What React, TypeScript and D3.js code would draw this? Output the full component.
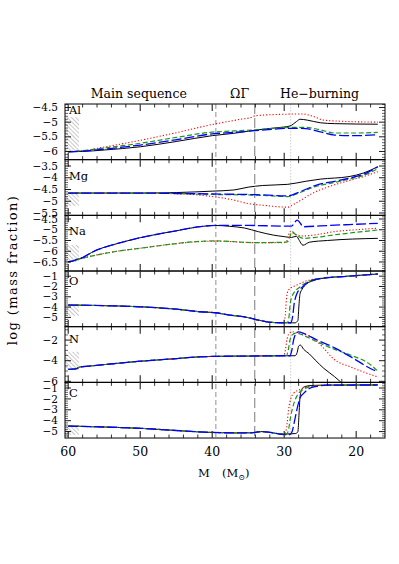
import React from "react";
import * as d3 from "d3";

type Pt = [number, number];

// mass axis runs backwards (the star loses mass as it evolves)
const MASS_TICKS = [60, 50, 40, 30, 20];
const PHASE_MASSES = [39.5, 34.1, 29.1];
const PHASE_TEXT = ["Main sequence", "ΩΓ", "He−burning"];
const PHASE_TEXT_MASS = [50.2, 36.2, 25.1];

const ELEMENTS = ["Al", "Mg", "Na", "O", "N", "C"];
const Y_DOMAINS: [number, number][] = [
  [-6.28, -4.38],
  [-5.6, -3.23],
  [-6.92, -4.33],
  [-5.9, -0.5],
  [-6.1, -0.7],
  [-5.59, -0.48],
];
const Y_MAJOR = [0.5, 0.5, 0.5, 1, 2, 1];
const Y_MINOR = [0.1, 0.1, 0.1, 0.2, 0.5, 0.2];

// initial abundance range (hatched box at left)
const HATCH_RANGES: [number, number][] = [
  [-6.01, -4.83],
  [-5.2, -4.65],
  [-6.5, -5.71],
  [-4.87, -3.8],
  [-4.9, -3.13],
  [-5.31, -4.39],
];
const HATCH_MASS = 58.5;

// ---- Al
const AL_SOLID: Pt[] = [[60, -6.01], [58, -6.0], [55, -5.95], [50, -5.84], [45, -5.66], [40, -5.46], [37, -5.38], [34, -5.27], [31, -5.19], [29.2, -5.13], [28.3, -4.98], [27.8, -4.9], [26.8, -4.93], [25, -5.02], [23, -5.05], [17, -5.07]];
const AL_DOTTED: Pt[] = [[60, -6.01], [58, -5.98], [55, -5.85], [50, -5.62], [45, -5.36], [40, -5.08], [36, -4.9], [34.6, -4.84], [34, -4.78], [30, -4.73], [27.5, -4.72], [26, -4.8], [24.5, -4.93], [22, -4.97], [17, -5.0]];
const AL_SHORT: Pt[] = [[60, -6.01], [58, -5.97], [55, -5.88], [50, -5.72], [45, -5.52], [40, -5.34], [37, -5.3], [34, -5.26], [29, -5.18], [27, -5.18], [25, -5.26], [23, -5.37], [20, -5.37], [17, -5.35]];
const AL_LONG: Pt[] = [[60, -6.01], [58, -5.99], [55, -5.92], [50, -5.78], [45, -5.6], [40, -5.4], [37, -5.35], [34, -5.29], [29, -5.21], [27, -5.22], [25, -5.33], [23, -5.44], [20, -5.46], [17, -5.43]];

// ---- Mg
const MG_SOLID: Pt[] = [[60, -4.65], [50, -4.65], [45, -4.63], [40, -4.57], [37, -4.52], [35, -4.4], [33, -4.33], [29.5, -4.28], [27, -4.15], [25, -4.06], [21, -3.95], [19, -3.8], [17, -3.53]];
const MG_DOTTED: Pt[] = [[60, -4.65], [50, -4.66], [45, -4.68], [40, -4.8], [37, -4.95], [35, -5.1], [33, -5.17], [29.5, -5.25], [28.5, -5.1], [26, -4.65], [24, -4.4], [21, -4.12], [19, -3.95], [17, -3.74]];
const MG_SHORT: Pt[] = [[60, -4.65], [50, -4.65], [45, -4.67], [40, -4.71], [34, -4.74], [29.5, -4.8], [28, -4.65], [25.5, -4.36], [23, -4.2], [21, -4.06], [19, -3.9], [17, -3.62]];
const MG_LONG: Pt[] = [[60, -4.65], [50, -4.65], [45, -4.67], [40, -4.69], [34, -4.72], [29.5, -4.77], [28, -4.62], [25.5, -4.31], [23, -4.15], [21, -4.02], [19, -3.85], [17, -3.53]];

// ---- Na
const NA_SOLID: Pt[] = [[60, -6.49], [59.3, -6.45], [58.8, -6.38], [58, -6.3], [57.5, -6.2], [56, -5.94], [54, -5.72], [52.3, -5.56], [50, -5.37], [47, -5.17], [45, -5.05], [42, -4.87], [39.5, -4.8], [37.6, -4.84], [35.5, -4.92], [33.6, -5.09], [31.5, -5.25], [30, -5.32], [29, -5.36], [28.3, -5.3], [27.9, -5.5], [27.4, -5.72], [26.5, -5.58], [24, -5.5], [17, -5.4]];
const NA_DOTTED: Pt[] = [[60, -6.49], [59, -6.42], [58.5, -6.37], [56, -6.17], [53, -5.99], [50, -5.86], [45.4, -5.66], [41.7, -5.55], [39.5, -5.53], [34, -5.6], [30, -5.6], [29.6, -5.5], [29.2, -5.09], [28.5, -5.2], [27.3, -5.29], [25, -5.2], [23.1, -5.09], [20, -5.0], [17, -4.93]];
const NA_SHORT: Pt[] = [[60, -6.49], [59, -6.42], [58.5, -6.37], [56, -6.17], [53, -5.99], [50, -5.86], [45.4, -5.66], [41.7, -5.54], [39.5, -5.52], [34, -5.6], [30, -5.58], [29.5, -5.55], [28.9, -5.09], [28.5, -5.2], [27.3, -5.4], [25.5, -5.35], [23.1, -5.24], [20, -5.12], [17, -5.01]];
const NA_LONG: Pt[] = [[60, -6.49], [59.3, -6.45], [58.8, -6.38], [58, -6.3], [57.5, -6.2], [56, -5.94], [54, -5.72], [52.3, -5.56], [50, -5.37], [47, -5.17], [45, -5.05], [42, -4.87], [39.5, -4.8], [35, -4.8], [30, -4.83], [29, -4.83], [28.2, -4.55], [27.3, -4.86], [25, -4.82], [21, -4.76], [17, -4.7]];

// ---- O
const O_SOLID: Pt[] = [[60, -3.8], [55, -3.86], [50, -3.97], [45, -4.2], [41.7, -4.45], [39.5, -4.55], [37.6, -4.77], [35.5, -4.95], [33.6, -5.26], [32.2, -5.45], [30.5, -5.52], [28.5, -5.53], [28.1, -5.3], [27.95, -3.8], [27.8, -2.7], [27.54, -2.3], [26.84, -1.72], [26, -1.45], [25, -1.25], [21, -1.0], [17, -0.79]];
const O_DOTTED: Pt[] = [[60, -3.8], [55, -3.86], [50, -3.97], [45, -4.2], [41.7, -4.45], [39.5, -4.55], [37.6, -4.77], [35.5, -4.95], [33.6, -5.26], [32.2, -5.45], [30.5, -5.52], [30.1, -5.5], [29.85, -4.8], [29.7, -3.3], [29.55, -2.6], [29.4, -2.34], [28.23, -1.86], [26.84, -1.44], [25, -1.21], [21, -1.0], [17, -0.79]];
const O_SHORT: Pt[] = [[60, -3.8], [55, -3.86], [50, -3.97], [45, -4.2], [41.7, -4.45], [39.5, -4.55], [37.6, -4.77], [35.5, -4.95], [33.6, -5.26], [32.2, -5.45], [30.5, -5.52], [29.6, -5.52], [29.35, -5.0], [29.15, -3.6], [28.95, -3.0], [28.7, -2.67], [27.77, -2.02], [26.38, -1.44], [25, -1.22], [21, -1.0], [17, -0.79]];
const O_LONG: Pt[] = [[60, -3.8], [55, -3.86], [50, -3.97], [45, -4.2], [41.7, -4.45], [39.5, -4.55], [37.6, -4.77], [35.5, -4.95], [33.6, -5.26], [32.2, -5.45], [30.5, -5.52], [29.1, -5.52], [28.85, -5.0], [28.6, -3.6], [28.4, -3.0], [28.23, -2.67], [27.54, -2.1], [26.6, -1.55], [25, -1.23], [21, -1.0], [17, -0.79]];

// ---- N
const N_SOLID: Pt[] = [[60, -4.85], [59, -4.8], [58.3, -4.6], [57.5, -4.55], [55, -4.38], [50, -4.05], [45, -3.8], [41.7, -3.62], [39.5, -3.58], [35, -3.55], [30.5, -3.52], [28.5, -3.52], [28.2, -3.2], [28.0, -2.6], [27.77, -2.48], [27.3, -2.89], [26.5, -3.35], [25.7, -3.93], [24.5, -4.74], [23, -5.55], [22.2, -6.04], [21.5, -6.5]];
const N_DOTTED: Pt[] = [[60, -4.85], [59, -4.8], [58.3, -4.6], [57.5, -4.55], [55, -4.38], [50, -4.05], [45, -3.8], [41.7, -3.62], [39.5, -3.58], [35, -3.55], [30.5, -3.52], [30.1, -3.5], [29.85, -3.0], [29.6, -1.9], [29.4, -1.45], [28.93, -1.19], [28.2, -1.3], [26.38, -1.67], [25.5, -2.1], [24.5, -2.8], [23.1, -3.85], [20.8, -4.6], [17.1, -5.55]];
const N_SHORT: Pt[] = [[60, -4.85], [59, -4.8], [58.3, -4.6], [57.5, -4.55], [55, -4.38], [50, -4.05], [45, -3.8], [41.7, -3.62], [39.5, -3.58], [35, -3.55], [30.5, -3.52], [29.7, -3.52], [29.45, -3.0], [29.2, -2.0], [28.9, -1.5], [28.4, -1.32], [27.5, -1.5], [25.45, -2.16], [23, -2.9], [20.8, -3.45], [18, -4.4], [17.1, -4.95]];
const N_LONG: Pt[] = [[60, -4.85], [59, -4.8], [58.3, -4.6], [57.5, -4.55], [55, -4.38], [50, -4.05], [45, -3.8], [41.7, -3.62], [39.5, -3.58], [35, -3.55], [30.5, -3.52], [29.2, -3.52], [28.95, -3.0], [28.7, -2.0], [28.4, -1.4], [28.0, -1.2], [27.3, -1.35], [25.45, -1.99], [23, -2.75], [20.8, -3.61], [17.6, -4.9], [17.1, -5.05]];

// ---- C
const C_SOLID: Pt[] = [[60, -4.49], [55, -4.58], [50, -4.7], [45, -4.9], [40, -5.08], [36, -5.12], [34.3, -5.1], [33.3, -5.0], [32.2, -5.05], [30.8, -5.2], [30.1, -5.22], [29, -5.2], [28.4, -5.18], [28.1, -5.0], [27.95, -3.5], [27.8, -1.8], [27.54, -1.1], [27.1, -0.86], [26, -0.76], [24, -0.73], [17, -0.72]];
const C_DOTTED: Pt[] = [[60, -4.49], [55, -4.58], [50, -4.7], [45, -4.9], [40, -5.08], [36, -5.12], [34.3, -5.1], [33.3, -5.0], [32.2, -5.05], [30.8, -5.2], [30.1, -5.27], [29.9, -5.2], [29.6, -4.3], [29.4, -3.0], [29.1, -2.0], [28.7, -1.49], [27.77, -1.12], [26.38, -0.84], [24, -0.74], [17, -0.72]];
const C_SHORT: Pt[] = [[60, -4.49], [55, -4.58], [50, -4.7], [45, -4.9], [40, -5.08], [36, -5.12], [34.3, -5.1], [33.3, -5.0], [32.2, -5.05], [30.8, -5.2], [30.1, -5.27], [29.7, -5.27], [29.4, -4.8], [29.1, -3.6], [28.6, -2.3], [28.0, -1.49], [27.3, -1.1], [26, -0.84], [24, -0.74], [17, -0.72]];
const C_LONG: Pt[] = [[60, -4.49], [55, -4.58], [50, -4.7], [45, -4.9], [40, -5.08], [36, -5.12], [34.3, -5.1], [33.3, -5.0], [32.2, -5.05], [30.8, -5.2], [30.1, -5.27], [29.2, -5.28], [28.9, -5.0], [28.5, -3.8], [28.1, -2.6], [27.8, -1.9], [27.3, -1.49], [26.5, -1.05], [25.5, -0.85], [24, -0.74], [17, -0.72]];

const PANEL_SERIES: Pt[][][] = [
  [AL_SOLID, AL_DOTTED, AL_SHORT, AL_LONG],
  [MG_SOLID, MG_DOTTED, MG_SHORT, MG_LONG],
  [NA_SOLID, NA_DOTTED, NA_SHORT, NA_LONG],
  [O_SOLID, O_DOTTED, O_SHORT, O_LONG],
  [N_SOLID, N_DOTTED, N_SHORT, N_LONG],
  [C_SOLID, C_DOTTED, C_SHORT, C_LONG],
];

// black solid, red dotted, green short dash, blue long dash
const LINE_STYLES = [
  { color: "#000000", dash: undefined, width: 1 },
  { color: "#ff0000", dash: "1.2 2", width: 1.1 },
  { color: "#1a9a1a", dash: "5 2.5", width: 1.2 },
  { color: "#0000ff", dash: "10 3", width: 1.3 },
];

const W = 399;
const H = 564;
const LEFT = 65;
const RIGHT = 385;
const TOP = 104;
const PANEL_H = 55.67;
const LABEL_DY = [10, 20.5, 20, 14, 16.5, 14.7];

const fmt = (v: number) => String(+v.toFixed(2)).replace("-", "\u2212");

const tickValues = (dom: [number, number], step: number) => {
  const lo = Math.ceil(dom[0] / step - 1e-6);
  const hi = Math.floor(dom[1] / step + 1e-6);
  return d3.range(lo, hi + 1).map((k) => +(k * step).toFixed(3));
};

export default function App() {
  const x = d3.scaleLinear().domain([60.45, 16]).range([LEFT, RIGHT]);
  const xMinor = d3.range(18, 61, 2).filter((m) => !MASS_TICKS.includes(m));
  const plotBottom = TOP + PANEL_H * ELEMENTS.length;
  const phaseStyles = [
    { stroke: "#aaaaaa", dash: "5 3", w: 1.3 },
    { stroke: "#9a9a9a", dash: "10 4", w: 1.3 },
    { stroke: "#cccccc", dash: "1.5 1.5", w: 1 },
  ];

  return (
    <svg
      width={W}
      height={H}
      style={{ position: "absolute", left: 0, top: 0, background: "#fff" }}
      fontFamily="DejaVu Serif"
    >
      <defs>
        <pattern id="hatch" width="3" height="3" patternUnits="userSpaceOnUse" patternTransform="rotate(-45)">
          <line x1="0" y1="0" x2="0" y2="3" stroke="#777" strokeWidth="0.8" />
        </pattern>
        {ELEMENTS.map((_, i) => (
          <clipPath id={`clip${i}`} key={i}>
            <rect x={LEFT} y={TOP + i * PANEL_H} width={RIGHT - LEFT} height={PANEL_H} />
          </clipPath>
        ))}
      </defs>

      {/* phase labels */}
      {PHASE_TEXT.map((t, i) => (
        <text key={t} x={x(PHASE_TEXT_MASS[i])} y={98} textAnchor="middle" fontSize={12.5}>
          {t}
        </text>
      ))}

      {/* phase boundaries */}
      {PHASE_MASSES.map((m, i) => (
        <line
          key={m}
          x1={x(m)}
          x2={x(m)}
          y1={TOP}
          y2={plotBottom}
          stroke={phaseStyles[i].stroke}
          strokeWidth={phaseStyles[i].w}
          strokeDasharray={phaseStyles[i].dash}
        />
      ))}

      {ELEMENTS.map((el, i) => {
        const top = TOP + i * PANEL_H;
        const bottom = top + PANEL_H;
        const dom = Y_DOMAINS[i];
        const y = d3.scaleLinear().domain(dom).range([bottom, top]);
        const line = d3
          .line<Pt>()
          .x((d) => x(d[0]))
          .y((d) => y(d[1]))
          .curve(d3.curveMonotoneX);
        const majors = tickValues(dom, Y_MAJOR[i]);
        const minors = tickValues(dom, Y_MINOR[i]).filter(
          (v) => Math.abs(v / Y_MAJOR[i] - Math.round(v / Y_MAJOR[i])) > 1e-6
        );
        const [hLo, hHi] = HATCH_RANGES[i];
        return (
          <g key={el}>
            <rect
              x={LEFT}
              y={y(hHi)}
              width={x(HATCH_MASS) - LEFT}
              height={y(hLo) - y(hHi)}
              fill="url(#hatch)"
            />
            <g clipPath={`url(#clip${i})`}>
              {PANEL_SERIES[i].map((s, k) => (
                <path
                  key={k}
                  d={line(s) ?? ""}
                  fill="none"
                  stroke={LINE_STYLES[k].color}
                  strokeWidth={LINE_STYLES[k].width}
                  strokeDasharray={LINE_STYLES[k].dash}
                />
              ))}
            </g>
            <rect x={LEFT} y={top} width={RIGHT - LEFT} height={PANEL_H} fill="none" stroke="#000" strokeWidth={1} />

            {/* x ticks, top and bottom of every panel */}
            {MASS_TICKS.map((m) => (
              <g key={`M${m}`} stroke="#333" strokeWidth={1.2}>
                <line x1={x(m)} x2={x(m)} y1={bottom} y2={bottom - 7} />
                <line x1={x(m)} x2={x(m)} y1={top} y2={top + 7} />
              </g>
            ))}
            {xMinor.map((m) => (
              <g key={`m${m}`} stroke="#000" strokeWidth={0.8}>
                <line x1={x(m)} x2={x(m)} y1={bottom} y2={bottom - 3.5} />
                <line x1={x(m)} x2={x(m)} y1={top} y2={top + 3.5} />
              </g>
            ))}

            {/* y ticks, left and right */}
            {majors.map((v) => (
              <g key={`Y${v}`} stroke="#000" strokeWidth={0.9}>
                <line x1={LEFT} x2={LEFT + 6} y1={y(v)} y2={y(v)} />
                <line x1={RIGHT} x2={RIGHT - 6} y1={y(v)} y2={y(v)} />
              </g>
            ))}
            {minors.map((v) => (
              <g key={`y${v}`} stroke="#000" strokeWidth={0.6}>
                <line x1={LEFT} x2={LEFT + 3} y1={y(v)} y2={y(v)} />
                <line x1={RIGHT} x2={RIGHT - 3} y1={y(v)} y2={y(v)} />
              </g>
            ))}
            {majors.map((v) => (
              <text key={`t${v}`} x={58} y={y(v)} dy="0.35em" textAnchor="end" fontSize={10.5}>
                {fmt(v)}
              </text>
            ))}

            <text x={69} y={top + LABEL_DY[i]} fontSize={11.5}>
              {el}
            </text>
          </g>
        );
      })}

      {/* x tick labels */}
      {MASS_TICKS.map((m) => (
        <text key={m} x={x(m)} y={456} textAnchor="middle" fontSize={12.5}>
          {m}
        </text>
      ))}

      <text x={198} y={477} fontSize={11.5}>M</text>
      <text x={222} y={477} fontSize={11.5}>
        (M<tspan fontSize={8} dy={3}>⊙</tspan>
        <tspan dy={-3}>)</tspan>
      </text>

      <text
        transform={`translate(17, 270) rotate(-90)`}
        textAnchor="middle"
        fontSize={13}
        letterSpacing={1.4}
      >
        log (mass fraction)
      </text>
    </svg>
  );
}
